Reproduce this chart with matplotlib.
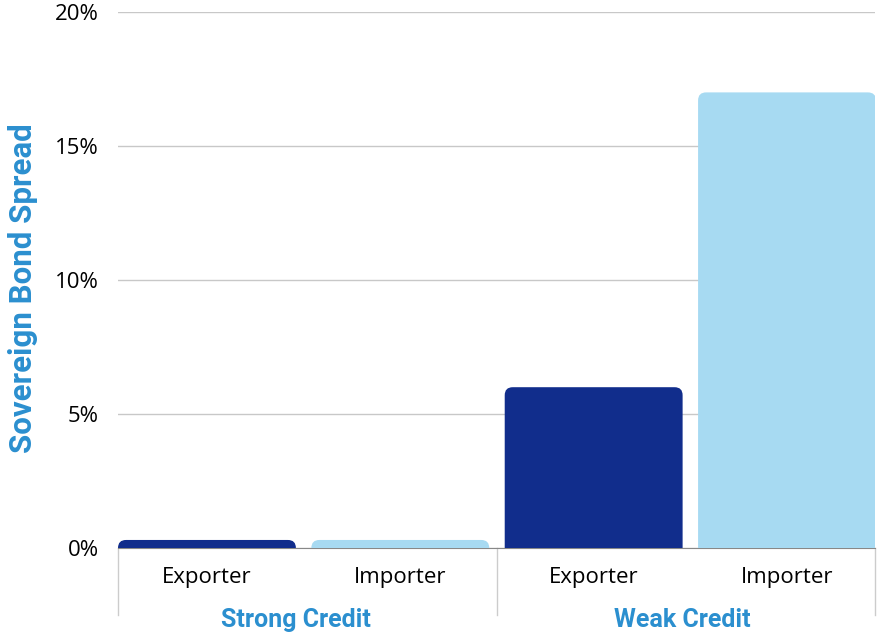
import matplotlib.pyplot as plt
from matplotlib.patches import FancyBboxPatch
from matplotlib.ticker import FuncFormatter

# Chart data
groups = ['Strong Credit', 'Weak Credit']
types = ['Exporter', 'Importer', 'Exporter', 'Importer']
spreads = [0.3, 0.3, 6.0, 17.0]
colors = ['#112d8c', '#a7daf2', '#112d8c', '#a7daf2']

label_blue = '#2b8fcf'
narrow = ['Roboto', 'DejaVu Sans']
plt.rcParams['font.family'] = ['Open Sans', 'DejaVu Sans']

fig = plt.figure(figsize=(8.77, 6.35), dpi=100)
ax = fig.add_axes([118 / 877, 1 - 548 / 635, 757 / 877, 536 / 635])

x = list(range(len(spreads)))
bars = ax.bar(x, spreads, width=0.92, color=colors)

ax.set_xlim(-0.46, 3.455)
ax.set_ylim(0, 20)

# swap plain bars for ones with rounded tops (bottom corners hidden under the axis)
px_x = 757 / 3.915
px_y = 536 / 20
r_px = 8
for rect, c in zip(bars, colors):
    rect.set_visible(False)
    r_y = r_px / px_y
    patch = FancyBboxPatch((rect.get_x(), -r_y), rect.get_width(), rect.get_height() + r_y,
                           boxstyle='round,pad=0,rounding_size=%f' % (r_px / px_x),
                           mutation_aspect=(r_px / px_y) / (r_px / px_x),
                           facecolor=c, edgecolor='none', zorder=3)
    ax.add_patch(patch)

ax.set_yticks([0, 5, 10, 15, 20])
ax.yaxis.set_major_formatter(FuncFormatter(lambda v, p: '%d%%' % v))
ax.grid(axis='y', color='#c8c8c8', linewidth=1)
ax.set_axisbelow(True)
ax.tick_params(axis='y', length=0, pad=14, labelsize=16)
ax.tick_params(axis='x', length=0, pad=14, labelsize=16)
ax.set_xticks(x)
ax.set_xticklabels(types)

for s in ['top', 'right', 'left']:
    ax.spines[s].set_visible(False)
ax.spines['bottom'].set_color('#888888')

ax.set_ylabel('Sovereign Bond Spread', color=label_blue, fontsize=22.5, fontweight='bold',
              family=narrow)
ax.yaxis.set_label_coords(-80 / 757, 0.485)

# group separators and group labels under the axis
for xs in [-0.46, 1.5, 3.455]:
    ax.plot([xs, xs], [0, -67 / px_y], color='#cccccc', linewidth=1, clip_on=False)
for i, g in enumerate(groups):
    ax.text(2 * i + 0.46, -72 / px_y, g, ha='center', va='center', color=label_blue,
            fontsize=18, fontweight='bold', family=narrow)

fig.savefig('out.png', dpi=100)
